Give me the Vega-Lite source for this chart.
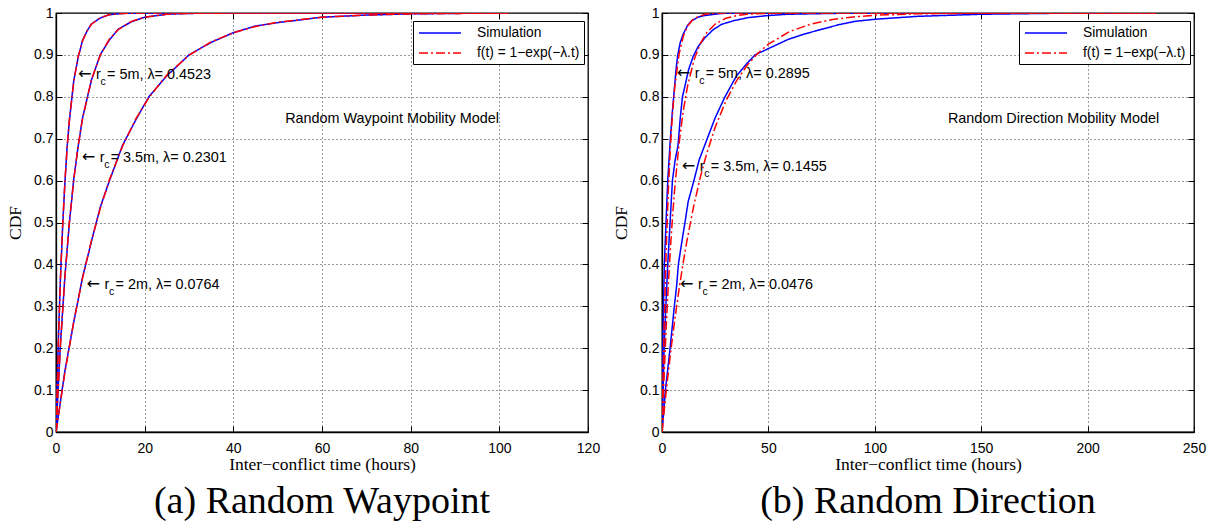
{
  "$schema": "https://vega.github.io/schema/vega-lite/v6.json",
  "background": "white",
  "padding": {"left": 5, "top": 5, "right": 5, "bottom": 5},
  "spacing": 10,
  "config": {
    "view": {"stroke": "black", "strokeWidth": 1.3},
    "axis": {
      "labelFont": "Liberation Sans", "labelFontSize": 14, "labelColor": "black",
      "titleFont": "Liberation Serif", "titleFontSize": 17.5, "titleFontWeight": "normal", "titleColor": "black",
      "tickColor": "black", "tickSize": -6, "tickWidth": 1, "domainColor": "black", "domainWidth": 1.3,
      "gridColor": "#222", "gridDash": [1, 3], "gridOpacity": 0.9, "gridWidth": 1,
      "labelFlush": false, "labelOverlap": false
    },
    "legend": {
      "strokeColor": "black", "fillColor": "white", "padding": 4,
      "symbolType": "M-3,0H3", "symbolSize": 196, "symbolStrokeWidth": 1.6, "symbolOffset": 15,
      "labelFont": "Liberation Sans", "labelFontSize": 13.8, "labelColor": "black",
      "labelOffset": 29, "rowPadding": 5, "cornerRadius": 0
    },
    "title": {"font": "Liberation Serif", "fontWeight": "normal", "color": "black"}
  },
  "datasets": {
    "rwp": [
      {"rc": "5m", "series": "f(t) = 1−exp(−λ.t)", "t": 0, "p": 0},
      {"rc": "5m", "series": "f(t) = 1−exp(−λ.t)", "t": 0.5, "p": 0.2023},
      {"rc": "5m", "series": "f(t) = 1−exp(−λ.t)", "t": 1, "p": 0.3638},
      {"rc": "5m", "series": "f(t) = 1−exp(−λ.t)", "t": 1.5, "p": 0.4925},
      {"rc": "5m", "series": "f(t) = 1−exp(−λ.t)", "t": 2, "p": 0.5953},
      {"rc": "5m", "series": "f(t) = 1−exp(−λ.t)", "t": 2.5, "p": 0.6772},
      {"rc": "5m", "series": "f(t) = 1−exp(−λ.t)", "t": 3, "p": 0.7425},
      {"rc": "5m", "series": "f(t) = 1−exp(−λ.t)", "t": 4, "p": 0.8362},
      {"rc": "5m", "series": "f(t) = 1−exp(−λ.t)", "t": 5, "p": 0.8958},
      {"rc": "5m", "series": "f(t) = 1−exp(−λ.t)", "t": 6, "p": 0.9337},
      {"rc": "5m", "series": "f(t) = 1−exp(−λ.t)", "t": 7, "p": 0.9578},
      {"rc": "5m", "series": "f(t) = 1−exp(−λ.t)", "t": 8, "p": 0.9732},
      {"rc": "5m", "series": "f(t) = 1−exp(−λ.t)", "t": 10, "p": 0.9891},
      {"rc": "5m", "series": "f(t) = 1−exp(−λ.t)", "t": 12, "p": 0.9956},
      {"rc": "5m", "series": "f(t) = 1−exp(−λ.t)", "t": 15, "p": 0.9989},
      {"rc": "5m", "series": "f(t) = 1−exp(−λ.t)", "t": 20, "p": 0.9999},
      {"rc": "5m", "series": "f(t) = 1−exp(−λ.t)", "t": 30, "p": 1},
      {"rc": "5m", "series": "f(t) = 1−exp(−λ.t)", "t": 102, "p": 1},
      {"rc": "3.5m", "series": "f(t) = 1−exp(−λ.t)", "t": 0, "p": 0},
      {"rc": "3.5m", "series": "f(t) = 1−exp(−λ.t)", "t": 1, "p": 0.2055},
      {"rc": "3.5m", "series": "f(t) = 1−exp(−λ.t)", "t": 2, "p": 0.3688},
      {"rc": "3.5m", "series": "f(t) = 1−exp(−λ.t)", "t": 3, "p": 0.4986},
      {"rc": "3.5m", "series": "f(t) = 1−exp(−λ.t)", "t": 4, "p": 0.6016},
      {"rc": "3.5m", "series": "f(t) = 1−exp(−λ.t)", "t": 5, "p": 0.6835},
      {"rc": "3.5m", "series": "f(t) = 1−exp(−λ.t)", "t": 6, "p": 0.7486},
      {"rc": "3.5m", "series": "f(t) = 1−exp(−λ.t)", "t": 8, "p": 0.8413},
      {"rc": "3.5m", "series": "f(t) = 1−exp(−λ.t)", "t": 10, "p": 0.8998},
      {"rc": "3.5m", "series": "f(t) = 1−exp(−λ.t)", "t": 12, "p": 0.9368},
      {"rc": "3.5m", "series": "f(t) = 1−exp(−λ.t)", "t": 14, "p": 0.9601},
      {"rc": "3.5m", "series": "f(t) = 1−exp(−λ.t)", "t": 17, "p": 0.98},
      {"rc": "3.5m", "series": "f(t) = 1−exp(−λ.t)", "t": 20, "p": 0.99},
      {"rc": "3.5m", "series": "f(t) = 1−exp(−λ.t)", "t": 25, "p": 0.9968},
      {"rc": "3.5m", "series": "f(t) = 1−exp(−λ.t)", "t": 30, "p": 0.999},
      {"rc": "3.5m", "series": "f(t) = 1−exp(−λ.t)", "t": 40, "p": 0.9999},
      {"rc": "3.5m", "series": "f(t) = 1−exp(−λ.t)", "t": 60, "p": 1},
      {"rc": "3.5m", "series": "f(t) = 1−exp(−λ.t)", "t": 102, "p": 1},
      {"rc": "2m", "series": "f(t) = 1−exp(−λ.t)", "t": 0, "p": 0},
      {"rc": "2m", "series": "f(t) = 1−exp(−λ.t)", "t": 2, "p": 0.1417},
      {"rc": "2m", "series": "f(t) = 1−exp(−λ.t)", "t": 4, "p": 0.2633},
      {"rc": "2m", "series": "f(t) = 1−exp(−λ.t)", "t": 6, "p": 0.3677},
      {"rc": "2m", "series": "f(t) = 1−exp(−λ.t)", "t": 8, "p": 0.4573},
      {"rc": "2m", "series": "f(t) = 1−exp(−λ.t)", "t": 10, "p": 0.5342},
      {"rc": "2m", "series": "f(t) = 1−exp(−λ.t)", "t": 12, "p": 0.6002},
      {"rc": "2m", "series": "f(t) = 1−exp(−λ.t)", "t": 15, "p": 0.6821},
      {"rc": "2m", "series": "f(t) = 1−exp(−λ.t)", "t": 18, "p": 0.7472},
      {"rc": "2m", "series": "f(t) = 1−exp(−λ.t)", "t": 21, "p": 0.799},
      {"rc": "2m", "series": "f(t) = 1−exp(−λ.t)", "t": 25, "p": 0.8519},
      {"rc": "2m", "series": "f(t) = 1−exp(−λ.t)", "t": 30, "p": 0.899},
      {"rc": "2m", "series": "f(t) = 1−exp(−λ.t)", "t": 35, "p": 0.931},
      {"rc": "2m", "series": "f(t) = 1−exp(−λ.t)", "t": 40, "p": 0.9529},
      {"rc": "2m", "series": "f(t) = 1−exp(−λ.t)", "t": 45, "p": 0.9679},
      {"rc": "2m", "series": "f(t) = 1−exp(−λ.t)", "t": 50, "p": 0.9781},
      {"rc": "2m", "series": "f(t) = 1−exp(−λ.t)", "t": 60, "p": 0.9898},
      {"rc": "2m", "series": "f(t) = 1−exp(−λ.t)", "t": 70, "p": 0.9952},
      {"rc": "2m", "series": "f(t) = 1−exp(−λ.t)", "t": 80, "p": 0.9978},
      {"rc": "2m", "series": "f(t) = 1−exp(−λ.t)", "t": 90, "p": 0.999},
      {"rc": "2m", "series": "f(t) = 1−exp(−λ.t)", "t": 102, "p": 0.9996},
      {"rc": "5m", "series": "Simulation", "t": 0, "p": 0},
      {"rc": "5m", "series": "Simulation", "t": 0.5, "p": 0.21},
      {"rc": "5m", "series": "Simulation", "t": 1, "p": 0.366},
      {"rc": "5m", "series": "Simulation", "t": 1.5, "p": 0.49},
      {"rc": "5m", "series": "Simulation", "t": 2, "p": 0.594},
      {"rc": "5m", "series": "Simulation", "t": 2.5, "p": 0.679},
      {"rc": "5m", "series": "Simulation", "t": 3, "p": 0.741},
      {"rc": "5m", "series": "Simulation", "t": 4, "p": 0.838},
      {"rc": "5m", "series": "Simulation", "t": 5, "p": 0.894},
      {"rc": "5m", "series": "Simulation", "t": 6, "p": 0.935},
      {"rc": "5m", "series": "Simulation", "t": 7, "p": 0.957},
      {"rc": "5m", "series": "Simulation", "t": 8, "p": 0.974},
      {"rc": "5m", "series": "Simulation", "t": 10, "p": 0.988},
      {"rc": "5m", "series": "Simulation", "t": 12, "p": 0.996},
      {"rc": "5m", "series": "Simulation", "t": 15, "p": 0.999},
      {"rc": "5m", "series": "Simulation", "t": 20, "p": 1},
      {"rc": "5m", "series": "Simulation", "t": 102, "p": 1},
      {"rc": "3.5m", "series": "Simulation", "t": 0, "p": 0},
      {"rc": "3.5m", "series": "Simulation", "t": 1, "p": 0.21},
      {"rc": "3.5m", "series": "Simulation", "t": 2, "p": 0.37},
      {"rc": "3.5m", "series": "Simulation", "t": 3, "p": 0.497},
      {"rc": "3.5m", "series": "Simulation", "t": 4, "p": 0.603},
      {"rc": "3.5m", "series": "Simulation", "t": 5, "p": 0.682},
      {"rc": "3.5m", "series": "Simulation", "t": 6, "p": 0.75},
      {"rc": "3.5m", "series": "Simulation", "t": 8, "p": 0.84},
      {"rc": "3.5m", "series": "Simulation", "t": 10, "p": 0.901},
      {"rc": "3.5m", "series": "Simulation", "t": 12, "p": 0.935},
      {"rc": "3.5m", "series": "Simulation", "t": 14, "p": 0.961},
      {"rc": "3.5m", "series": "Simulation", "t": 17, "p": 0.979},
      {"rc": "3.5m", "series": "Simulation", "t": 20, "p": 0.99},
      {"rc": "3.5m", "series": "Simulation", "t": 25, "p": 0.997},
      {"rc": "3.5m", "series": "Simulation", "t": 30, "p": 0.999},
      {"rc": "3.5m", "series": "Simulation", "t": 40, "p": 1},
      {"rc": "3.5m", "series": "Simulation", "t": 102, "p": 1},
      {"rc": "2m", "series": "Simulation", "t": 0, "p": 0},
      {"rc": "2m", "series": "Simulation", "t": 2, "p": 0.145},
      {"rc": "2m", "series": "Simulation", "t": 4, "p": 0.262},
      {"rc": "2m", "series": "Simulation", "t": 6, "p": 0.37},
      {"rc": "2m", "series": "Simulation", "t": 8, "p": 0.455},
      {"rc": "2m", "series": "Simulation", "t": 10, "p": 0.537},
      {"rc": "2m", "series": "Simulation", "t": 12, "p": 0.598},
      {"rc": "2m", "series": "Simulation", "t": 15, "p": 0.684},
      {"rc": "2m", "series": "Simulation", "t": 18, "p": 0.745},
      {"rc": "2m", "series": "Simulation", "t": 21, "p": 0.801},
      {"rc": "2m", "series": "Simulation", "t": 25, "p": 0.85},
      {"rc": "2m", "series": "Simulation", "t": 30, "p": 0.9},
      {"rc": "2m", "series": "Simulation", "t": 35, "p": 0.93},
      {"rc": "2m", "series": "Simulation", "t": 40, "p": 0.953},
      {"rc": "2m", "series": "Simulation", "t": 45, "p": 0.969},
      {"rc": "2m", "series": "Simulation", "t": 50, "p": 0.977},
      {"rc": "2m", "series": "Simulation", "t": 60, "p": 0.99},
      {"rc": "2m", "series": "Simulation", "t": 70, "p": 0.995},
      {"rc": "2m", "series": "Simulation", "t": 80, "p": 0.998},
      {"rc": "2m", "series": "Simulation", "t": 90, "p": 0.999},
      {"rc": "2m", "series": "Simulation", "t": 102, "p": 1}
    ],
    "rd": [
      {"rc": "5m", "series": "f(t) = 1−exp(−λ.t)", "t": 0, "p": 0},
      {"rc": "5m", "series": "f(t) = 1−exp(−λ.t)", "t": 0.5, "p": 0.1348},
      {"rc": "5m", "series": "f(t) = 1−exp(−λ.t)", "t": 1, "p": 0.2513},
      {"rc": "5m", "series": "f(t) = 1−exp(−λ.t)", "t": 2, "p": 0.4395},
      {"rc": "5m", "series": "f(t) = 1−exp(−λ.t)", "t": 3, "p": 0.5804},
      {"rc": "5m", "series": "f(t) = 1−exp(−λ.t)", "t": 4, "p": 0.6859},
      {"rc": "5m", "series": "f(t) = 1−exp(−λ.t)", "t": 5, "p": 0.7648},
      {"rc": "5m", "series": "f(t) = 1−exp(−λ.t)", "t": 6, "p": 0.8239},
      {"rc": "5m", "series": "f(t) = 1−exp(−λ.t)", "t": 8, "p": 0.9013},
      {"rc": "5m", "series": "f(t) = 1−exp(−λ.t)", "t": 10, "p": 0.9447},
      {"rc": "5m", "series": "f(t) = 1−exp(−λ.t)", "t": 12, "p": 0.969},
      {"rc": "5m", "series": "f(t) = 1−exp(−λ.t)", "t": 15, "p": 0.987},
      {"rc": "5m", "series": "f(t) = 1−exp(−λ.t)", "t": 20, "p": 0.9969},
      {"rc": "5m", "series": "f(t) = 1−exp(−λ.t)", "t": 25, "p": 0.9993},
      {"rc": "5m", "series": "f(t) = 1−exp(−λ.t)", "t": 30, "p": 0.9998},
      {"rc": "5m", "series": "f(t) = 1−exp(−λ.t)", "t": 40, "p": 1},
      {"rc": "5m", "series": "f(t) = 1−exp(−λ.t)", "t": 232, "p": 1},
      {"rc": "3.5m", "series": "f(t) = 1−exp(−λ.t)", "t": 0, "p": 0},
      {"rc": "3.5m", "series": "f(t) = 1−exp(−λ.t)", "t": 1, "p": 0.1354},
      {"rc": "3.5m", "series": "f(t) = 1−exp(−λ.t)", "t": 2, "p": 0.2525},
      {"rc": "3.5m", "series": "f(t) = 1−exp(−λ.t)", "t": 3, "p": 0.3537},
      {"rc": "3.5m", "series": "f(t) = 1−exp(−λ.t)", "t": 4, "p": 0.4412},
      {"rc": "3.5m", "series": "f(t) = 1−exp(−λ.t)", "t": 5, "p": 0.5169},
      {"rc": "3.5m", "series": "f(t) = 1−exp(−λ.t)", "t": 6, "p": 0.5823},
      {"rc": "3.5m", "series": "f(t) = 1−exp(−λ.t)", "t": 8, "p": 0.6878},
      {"rc": "3.5m", "series": "f(t) = 1−exp(−λ.t)", "t": 10, "p": 0.7666},
      {"rc": "3.5m", "series": "f(t) = 1−exp(−λ.t)", "t": 12, "p": 0.8255},
      {"rc": "3.5m", "series": "f(t) = 1−exp(−λ.t)", "t": 15, "p": 0.8873},
      {"rc": "3.5m", "series": "f(t) = 1−exp(−λ.t)", "t": 18, "p": 0.9271},
      {"rc": "3.5m", "series": "f(t) = 1−exp(−λ.t)", "t": 21, "p": 0.9529},
      {"rc": "3.5m", "series": "f(t) = 1−exp(−λ.t)", "t": 25, "p": 0.9737},
      {"rc": "3.5m", "series": "f(t) = 1−exp(−λ.t)", "t": 30, "p": 0.9873},
      {"rc": "3.5m", "series": "f(t) = 1−exp(−λ.t)", "t": 35, "p": 0.9939},
      {"rc": "3.5m", "series": "f(t) = 1−exp(−λ.t)", "t": 40, "p": 0.997},
      {"rc": "3.5m", "series": "f(t) = 1−exp(−λ.t)", "t": 50, "p": 0.9993},
      {"rc": "3.5m", "series": "f(t) = 1−exp(−λ.t)", "t": 70, "p": 1},
      {"rc": "3.5m", "series": "f(t) = 1−exp(−λ.t)", "t": 232, "p": 1},
      {"rc": "2m", "series": "f(t) = 1−exp(−λ.t)", "t": 0, "p": 0},
      {"rc": "2m", "series": "f(t) = 1−exp(−λ.t)", "t": 2, "p": 0.0988},
      {"rc": "2m", "series": "f(t) = 1−exp(−λ.t)", "t": 4, "p": 0.1878},
      {"rc": "2m", "series": "f(t) = 1−exp(−λ.t)", "t": 6, "p": 0.268},
      {"rc": "2m", "series": "f(t) = 1−exp(−λ.t)", "t": 8, "p": 0.3403},
      {"rc": "2m", "series": "f(t) = 1−exp(−λ.t)", "t": 10, "p": 0.4055},
      {"rc": "2m", "series": "f(t) = 1−exp(−λ.t)", "t": 12, "p": 0.4642},
      {"rc": "2m", "series": "f(t) = 1−exp(−λ.t)", "t": 15, "p": 0.5416},
      {"rc": "2m", "series": "f(t) = 1−exp(−λ.t)", "t": 18, "p": 0.6078},
      {"rc": "2m", "series": "f(t) = 1−exp(−λ.t)", "t": 21, "p": 0.6645},
      {"rc": "2m", "series": "f(t) = 1−exp(−λ.t)", "t": 25, "p": 0.7275},
      {"rc": "2m", "series": "f(t) = 1−exp(−λ.t)", "t": 30, "p": 0.7899},
      {"rc": "2m", "series": "f(t) = 1−exp(−λ.t)", "t": 35, "p": 0.838},
      {"rc": "2m", "series": "f(t) = 1−exp(−λ.t)", "t": 40, "p": 0.8751},
      {"rc": "2m", "series": "f(t) = 1−exp(−λ.t)", "t": 45, "p": 0.9037},
      {"rc": "2m", "series": "f(t) = 1−exp(−λ.t)", "t": 50, "p": 0.9257},
      {"rc": "2m", "series": "f(t) = 1−exp(−λ.t)", "t": 60, "p": 0.9558},
      {"rc": "2m", "series": "f(t) = 1−exp(−λ.t)", "t": 70, "p": 0.9737},
      {"rc": "2m", "series": "f(t) = 1−exp(−λ.t)", "t": 80, "p": 0.9844},
      {"rc": "2m", "series": "f(t) = 1−exp(−λ.t)", "t": 90, "p": 0.9907},
      {"rc": "2m", "series": "f(t) = 1−exp(−λ.t)", "t": 100, "p": 0.9945},
      {"rc": "2m", "series": "f(t) = 1−exp(−λ.t)", "t": 120, "p": 0.9981},
      {"rc": "2m", "series": "f(t) = 1−exp(−λ.t)", "t": 150, "p": 0.9996},
      {"rc": "2m", "series": "f(t) = 1−exp(−λ.t)", "t": 180, "p": 0.9999},
      {"rc": "2m", "series": "f(t) = 1−exp(−λ.t)", "t": 232, "p": 1},
      {"rc": "5m", "series": "Simulation", "t": 0, "p": 0},
      {"rc": "5m", "series": "Simulation", "t": 0.2, "p": 0.1},
      {"rc": "5m", "series": "Simulation", "t": 0.4, "p": 0.2},
      {"rc": "5m", "series": "Simulation", "t": 0.7, "p": 0.3},
      {"rc": "5m", "series": "Simulation", "t": 1.1, "p": 0.4},
      {"rc": "5m", "series": "Simulation", "t": 1.9, "p": 0.5},
      {"rc": "5m", "series": "Simulation", "t": 2.7, "p": 0.6},
      {"rc": "5m", "series": "Simulation", "t": 3.8, "p": 0.69},
      {"rc": "5m", "series": "Simulation", "t": 4.8, "p": 0.76},
      {"rc": "5m", "series": "Simulation", "t": 5.8, "p": 0.818},
      {"rc": "5m", "series": "Simulation", "t": 6.6, "p": 0.865},
      {"rc": "5m", "series": "Simulation", "t": 7.4, "p": 0.9},
      {"rc": "5m", "series": "Simulation", "t": 8.6, "p": 0.93},
      {"rc": "5m", "series": "Simulation", "t": 10, "p": 0.95},
      {"rc": "5m", "series": "Simulation", "t": 12, "p": 0.97},
      {"rc": "5m", "series": "Simulation", "t": 14, "p": 0.982},
      {"rc": "5m", "series": "Simulation", "t": 17, "p": 0.99},
      {"rc": "5m", "series": "Simulation", "t": 20, "p": 0.994},
      {"rc": "5m", "series": "Simulation", "t": 28, "p": 0.999},
      {"rc": "5m", "series": "Simulation", "t": 40, "p": 1},
      {"rc": "5m", "series": "Simulation", "t": 232, "p": 1},
      {"rc": "3.5m", "series": "Simulation", "t": 0, "p": 0},
      {"rc": "3.5m", "series": "Simulation", "t": 0.5, "p": 0.1},
      {"rc": "3.5m", "series": "Simulation", "t": 1, "p": 0.2},
      {"rc": "3.5m", "series": "Simulation", "t": 1.8, "p": 0.3},
      {"rc": "3.5m", "series": "Simulation", "t": 2.7, "p": 0.4},
      {"rc": "3.5m", "series": "Simulation", "t": 3.8, "p": 0.5},
      {"rc": "3.5m", "series": "Simulation", "t": 4.9, "p": 0.6},
      {"rc": "3.5m", "series": "Simulation", "t": 6.2, "p": 0.65},
      {"rc": "3.5m", "series": "Simulation", "t": 7.5, "p": 0.683},
      {"rc": "3.5m", "series": "Simulation", "t": 8.6, "p": 0.75},
      {"rc": "3.5m", "series": "Simulation", "t": 9.6, "p": 0.8},
      {"rc": "3.5m", "series": "Simulation", "t": 10.8, "p": 0.826},
      {"rc": "3.5m", "series": "Simulation", "t": 12.5, "p": 0.865},
      {"rc": "3.5m", "series": "Simulation", "t": 14.7, "p": 0.897},
      {"rc": "3.5m", "series": "Simulation", "t": 17, "p": 0.92},
      {"rc": "3.5m", "series": "Simulation", "t": 20.2, "p": 0.941},
      {"rc": "3.5m", "series": "Simulation", "t": 24, "p": 0.96},
      {"rc": "3.5m", "series": "Simulation", "t": 28, "p": 0.973},
      {"rc": "3.5m", "series": "Simulation", "t": 34, "p": 0.982},
      {"rc": "3.5m", "series": "Simulation", "t": 40.5, "p": 0.989},
      {"rc": "3.5m", "series": "Simulation", "t": 50, "p": 0.994},
      {"rc": "3.5m", "series": "Simulation", "t": 59, "p": 0.997},
      {"rc": "3.5m", "series": "Simulation", "t": 80, "p": 0.999},
      {"rc": "3.5m", "series": "Simulation", "t": 100, "p": 1},
      {"rc": "3.5m", "series": "Simulation", "t": 232, "p": 1},
      {"rc": "2m", "series": "Simulation", "t": 0, "p": 0},
      {"rc": "2m", "series": "Simulation", "t": 0.8, "p": 0.05},
      {"rc": "2m", "series": "Simulation", "t": 1.6, "p": 0.1},
      {"rc": "2m", "series": "Simulation", "t": 2.7, "p": 0.15},
      {"rc": "2m", "series": "Simulation", "t": 3.8, "p": 0.2},
      {"rc": "2m", "series": "Simulation", "t": 4.8, "p": 0.25},
      {"rc": "2m", "series": "Simulation", "t": 5.8, "p": 0.3},
      {"rc": "2m", "series": "Simulation", "t": 6.9, "p": 0.35},
      {"rc": "2m", "series": "Simulation", "t": 7.7, "p": 0.4},
      {"rc": "2m", "series": "Simulation", "t": 9.2, "p": 0.45},
      {"rc": "2m", "series": "Simulation", "t": 10.8, "p": 0.5},
      {"rc": "2m", "series": "Simulation", "t": 12.3, "p": 0.55},
      {"rc": "2m", "series": "Simulation", "t": 15, "p": 0.6},
      {"rc": "2m", "series": "Simulation", "t": 17.5, "p": 0.65},
      {"rc": "2m", "series": "Simulation", "t": 20.5, "p": 0.69},
      {"rc": "2m", "series": "Simulation", "t": 25, "p": 0.75},
      {"rc": "2m", "series": "Simulation", "t": 29.6, "p": 0.8},
      {"rc": "2m", "series": "Simulation", "t": 35, "p": 0.85},
      {"rc": "2m", "series": "Simulation", "t": 40, "p": 0.88},
      {"rc": "2m", "series": "Simulation", "t": 43.7, "p": 0.9},
      {"rc": "2m", "series": "Simulation", "t": 50, "p": 0.915},
      {"rc": "2m", "series": "Simulation", "t": 59.3, "p": 0.937},
      {"rc": "2m", "series": "Simulation", "t": 67, "p": 0.95},
      {"rc": "2m", "series": "Simulation", "t": 75, "p": 0.961},
      {"rc": "2m", "series": "Simulation", "t": 83, "p": 0.972},
      {"rc": "2m", "series": "Simulation", "t": 90.7, "p": 0.98},
      {"rc": "2m", "series": "Simulation", "t": 100, "p": 0.985},
      {"rc": "2m", "series": "Simulation", "t": 120, "p": 0.992},
      {"rc": "2m", "series": "Simulation", "t": 150, "p": 0.997},
      {"rc": "2m", "series": "Simulation", "t": 180, "p": 0.999},
      {"rc": "2m", "series": "Simulation", "t": 200, "p": 1},
      {"rc": "2m", "series": "Simulation", "t": 232, "p": 1}
    ],
    "ann_rwp": [
      {"t": 4.96, "p": 0.852, "rest": "= 5m, λ= 0.4523"},
      {"t": 5.8, "p": 0.655, "rest": "= 3.5m, λ= 0.2301"},
      {"t": 6.9, "p": 0.352, "rest": "= 2m, λ= 0.0764"}
    ],
    "ann_rd": [
      {"t": 6.9, "p": 0.855, "rest": "= 5m, λ= 0.2895"},
      {"t": 9.3, "p": 0.633, "rest": "= 3.5m, λ= 0.1455"},
      {"t": 8.5, "p": 0.352, "rest": "= 2m, λ= 0.0476"}
    ],
    "model_rwp": [{"t": 75.8, "p": 0.748, "label": "Random Waypoint Mobility Model"}],
    "model_rd": [{"t": 184, "p": 0.748, "label": "Random Direction Mobility Model"}]
  },
  "resolve": {
    "scale": {"color": "independent", "strokeDash": "independent"},
    "legend": {"color": "independent", "strokeDash": "independent"}
  },
  "hconcat": [
    {
      "width": 532, "height": 419,
      "title": {"text": "(a) Random Waypoint", "orient": "bottom", "fontSize": 38, "offset": 10, "anchor": "middle", "frame": "group"},
      "resolve": {"axis": {"x": "independent", "y": "independent"}},
      "layer": [
        {
          "data": {"name": "rwp"},
          "transform": [{"filter": "datum.series == 'Simulation'"}],
          "mark": {"type": "line", "strokeWidth": 1.5, "clip": true},
          "encoding": {
            "x": {"field": "t", "type": "quantitative", "scale": {"domain": [0, 120], "nice": false},
                  "axis": {"title": "Inter−conflict time (hours)", "values": [0, 20, 40, 60, 80, 100, 120], "grid": true, "labelPadding": 15, "titlePadding": 0}},
            "y": {"field": "p", "type": "quantitative", "scale": {"domain": [0, 1], "nice": false},
                  "axis": {"title": "CDF", "values": [0, 0.1, 0.2, 0.3, 0.4, 0.5, 0.6, 0.7, 0.8, 0.9, 1], "labelExpr": "datum.value == 0 ? '0' : datum.value == 1 ? '1' : format(datum.value, '.1f')", "grid": true, "labelPadding": 9, "titlePadding": 9}},
            "detail": {"field": "rc"},
            "color": {"field": "series", "type": "nominal", "scale": {"domain": ["Simulation", "f(t) = 1−exp(−λ.t)"], "range": ["#0000ff", "#ff0000"]},
                      "legend": {"title": null, "orient": "none", "legendX": 357, "legendY": 8}},
            "strokeDash": {"field": "series", "type": "nominal", "scale": {"domain": ["Simulation", "f(t) = 1−exp(−λ.t)"], "range": [[1, 0], [9, 3, 2, 3]]},
                      "legend": {"title": null, "orient": "none", "legendX": 357, "legendY": 8}}
          }
        },
        {
          "data": {"name": "rwp"},
          "transform": [{"filter": "datum.series != 'Simulation'"}],
          "mark": {"type": "line", "strokeWidth": 1.5, "clip": true},
          "encoding": {
            "x": {"field": "t", "type": "quantitative", "axis": null},
            "y": {"field": "p", "type": "quantitative", "axis": null},
            "detail": {"field": "rc"},
            "color": {"field": "series", "type": "nominal", "legend": {"title": null, "orient": "none", "legendX": 357, "legendY": 8}},
            "strokeDash": {"field": "series", "type": "nominal", "legend": {"title": null, "orient": "none", "legendX": 357, "legendY": 8}}
          }
        },
        {
          "data": {"name": "ann_rwp"},
          "mark": {"type": "text", "align": "left", "baseline": "middle", "font": "DejaVu Sans", "fontSize": 16, "color": "black", "dy": -1},
          "encoding": {
            "x": {"field": "t", "type": "quantitative", "axis": null},
            "y": {"field": "p", "type": "quantitative", "axis": null},
            "text": {"value": "←"}
          }
        },
        {
          "data": {"name": "ann_rwp"},
          "mark": {"type": "text", "align": "left", "baseline": "middle", "font": "Liberation Sans", "fontSize": 14.4, "color": "black", "dx": 18},
          "encoding": {
            "x": {"field": "t", "type": "quantitative", "axis": null},
            "y": {"field": "p", "type": "quantitative", "axis": null},
            "text": {"value": "r"}
          }
        },
        {
          "data": {"name": "ann_rwp"},
          "mark": {"type": "text", "align": "left", "baseline": "middle", "font": "Liberation Sans", "fontSize": 10.5, "color": "black", "dx": 22.5, "dy": 7},
          "encoding": {
            "x": {"field": "t", "type": "quantitative", "axis": null},
            "y": {"field": "p", "type": "quantitative", "axis": null},
            "text": {"value": "c"}
          }
        },
        {
          "data": {"name": "ann_rwp"},
          "mark": {"type": "text", "align": "left", "baseline": "middle", "font": "Liberation Sans", "fontSize": 14.4, "color": "black", "dx": 29},
          "encoding": {
            "x": {"field": "t", "type": "quantitative", "axis": null},
            "y": {"field": "p", "type": "quantitative", "axis": null},
            "text": {"field": "rest"}
          }
        },
        {
          "data": {"name": "model_rwp"},
          "mark": {"type": "text", "align": "center", "baseline": "middle", "font": "Liberation Sans", "fontSize": 14.4, "color": "black"},
          "encoding": {
            "x": {"field": "t", "type": "quantitative", "axis": {"orient": "top", "labels": false, "grid": false, "title": null, "domain": false, "values": [0, 20, 40, 60, 80, 100, 120]}},
            "y": {"field": "p", "type": "quantitative", "axis": {"orient": "right", "labels": false, "grid": false, "title": null, "domain": false, "values": [0, 0.1, 0.2, 0.3, 0.4, 0.5, 0.6, 0.7, 0.8, 0.9, 1]}},
            "text": {"field": "label"}
          }
        }
      ]
    },
    {
      "width": 532, "height": 419,
      "title": {"text": "(b) Random Direction", "orient": "bottom", "fontSize": 38, "offset": 10, "anchor": "middle", "frame": "group"},
      "resolve": {"axis": {"x": "independent", "y": "independent"}},
      "layer": [
        {
          "data": {"name": "rd"},
          "transform": [{"filter": "datum.series == 'Simulation'"}],
          "mark": {"type": "line", "strokeWidth": 1.5, "clip": true},
          "encoding": {
            "x": {"field": "t", "type": "quantitative", "scale": {"domain": [0, 250], "nice": false},
                  "axis": {"title": "Inter−conflict time (hours)", "values": [0, 50, 100, 150, 200, 250], "grid": true, "labelPadding": 15, "titlePadding": 0}},
            "y": {"field": "p", "type": "quantitative", "scale": {"domain": [0, 1], "nice": false},
                  "axis": {"title": "CDF", "values": [0, 0.1, 0.2, 0.3, 0.4, 0.5, 0.6, 0.7, 0.8, 0.9, 1], "labelExpr": "datum.value == 0 ? '0' : datum.value == 1 ? '1' : format(datum.value, '.1f')", "grid": true, "labelPadding": 9, "titlePadding": 9}},
            "detail": {"field": "rc"},
            "color": {"field": "series", "type": "nominal", "scale": {"domain": ["Simulation", "f(t) = 1−exp(−λ.t)"], "range": ["#0000ff", "#ff0000"]},
                      "legend": {"title": null, "orient": "none", "legendX": 357, "legendY": 8}},
            "strokeDash": {"field": "series", "type": "nominal", "scale": {"domain": ["Simulation", "f(t) = 1−exp(−λ.t)"], "range": [[1, 0], [9, 3, 2, 3]]},
                      "legend": {"title": null, "orient": "none", "legendX": 357, "legendY": 8}}
          }
        },
        {
          "data": {"name": "rd"},
          "transform": [{"filter": "datum.series != 'Simulation'"}],
          "mark": {"type": "line", "strokeWidth": 1.5, "clip": true},
          "encoding": {
            "x": {"field": "t", "type": "quantitative", "axis": null},
            "y": {"field": "p", "type": "quantitative", "axis": null},
            "detail": {"field": "rc"},
            "color": {"field": "series", "type": "nominal", "legend": {"title": null, "orient": "none", "legendX": 357, "legendY": 8}},
            "strokeDash": {"field": "series", "type": "nominal", "legend": {"title": null, "orient": "none", "legendX": 357, "legendY": 8}}
          }
        },
        {
          "data": {"name": "ann_rd"},
          "mark": {"type": "text", "align": "left", "baseline": "middle", "font": "DejaVu Sans", "fontSize": 16, "color": "black", "dy": -1},
          "encoding": {
            "x": {"field": "t", "type": "quantitative", "axis": null},
            "y": {"field": "p", "type": "quantitative", "axis": null},
            "text": {"value": "←"}
          }
        },
        {
          "data": {"name": "ann_rd"},
          "mark": {"type": "text", "align": "left", "baseline": "middle", "font": "Liberation Sans", "fontSize": 14.4, "color": "black", "dx": 18},
          "encoding": {
            "x": {"field": "t", "type": "quantitative", "axis": null},
            "y": {"field": "p", "type": "quantitative", "axis": null},
            "text": {"value": "r"}
          }
        },
        {
          "data": {"name": "ann_rd"},
          "mark": {"type": "text", "align": "left", "baseline": "middle", "font": "Liberation Sans", "fontSize": 10.5, "color": "black", "dx": 22.5, "dy": 7},
          "encoding": {
            "x": {"field": "t", "type": "quantitative", "axis": null},
            "y": {"field": "p", "type": "quantitative", "axis": null},
            "text": {"value": "c"}
          }
        },
        {
          "data": {"name": "ann_rd"},
          "mark": {"type": "text", "align": "left", "baseline": "middle", "font": "Liberation Sans", "fontSize": 14.4, "color": "black", "dx": 29},
          "encoding": {
            "x": {"field": "t", "type": "quantitative", "axis": null},
            "y": {"field": "p", "type": "quantitative", "axis": null},
            "text": {"field": "rest"}
          }
        },
        {
          "data": {"name": "model_rd"},
          "mark": {"type": "text", "align": "center", "baseline": "middle", "font": "Liberation Sans", "fontSize": 14.4, "color": "black"},
          "encoding": {
            "x": {"field": "t", "type": "quantitative", "axis": {"orient": "top", "labels": false, "grid": false, "title": null, "domain": false, "values": [0, 50, 100, 150, 200, 250]}},
            "y": {"field": "p", "type": "quantitative", "axis": {"orient": "right", "labels": false, "grid": false, "title": null, "domain": false, "values": [0, 0.1, 0.2, 0.3, 0.4, 0.5, 0.6, 0.7, 0.8, 0.9, 1]}},
            "text": {"field": "label"}
          }
        }
      ]
    }
  ]
}
